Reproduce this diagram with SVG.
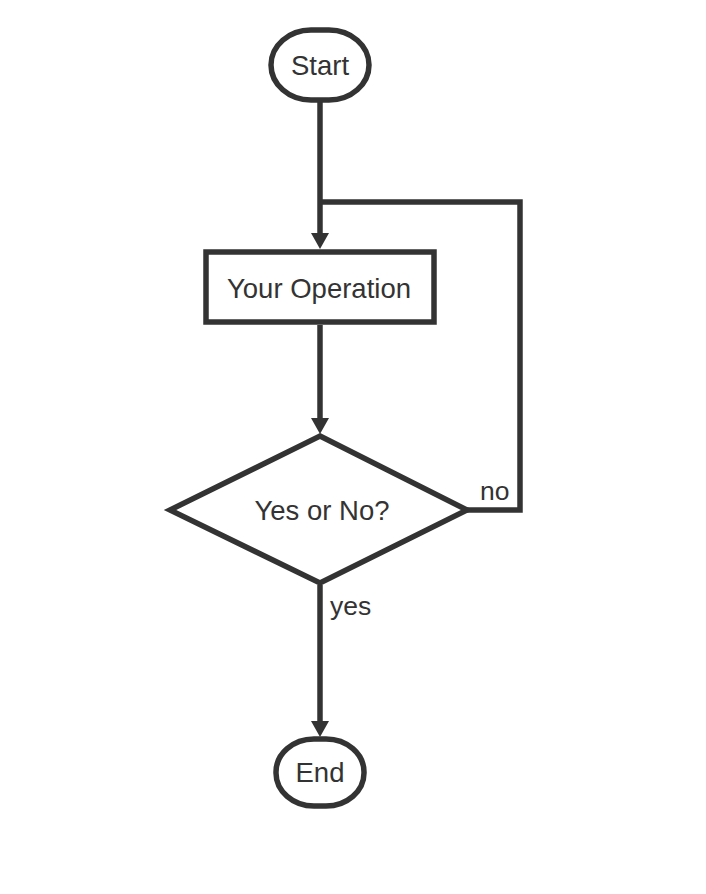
<svg xmlns="http://www.w3.org/2000/svg" width="706" height="894" viewBox="0 0 706 894">
  <style>
    .shape { fill: #ffffff; stroke: #333333; stroke-width: 5.5; }
    .conn { fill: none; stroke: #333333; stroke-width: 5.5; stroke-linejoin: miter; }
    .label { font-family: "Liberation Sans", Arial, sans-serif; font-size: 27.5px; fill: #333333; text-anchor: middle; }
    .edge-label { font-family: "Liberation Sans", Arial, sans-serif; font-size: 26.5px; fill: #333333; }
  </style>
  <defs>
    <marker id="arrow" viewBox="0 0 16 18" markerWidth="16" markerHeight="18" refX="8" refY="9" orient="auto" markerUnits="userSpaceOnUse">
      <path d="M0,0 L16,9 L0,18 z" fill="#333333"/>
    </marker>
  </defs>
  <rect width="706" height="894" fill="#ffffff"/>
  <g id="connectors">
    <path class="conn" d="M320,101 V241" marker-end="url(#arrow)"/>
    <path class="conn" d="M320,325 V426" marker-end="url(#arrow)"/>
    <path class="conn" d="M320,585 V729" marker-end="url(#arrow)"/>
    <path class="conn" d="M467,510 H520 V202 H320"/>
    <text class="edge-label" x="480" y="500">no</text>
    <text class="edge-label" x="330" y="615">yes</text>
  </g>
  <g id="start">
    <rect class="shape" x="271" y="30" width="98" height="70" rx="40" ry="35"/>
    <text class="label" x="320" y="75">Start</text>
  </g>
  <g id="operation">
    <rect class="shape" x="206" y="252" width="228" height="70"/>
    <text class="label" x="319" y="298">Your Operation</text>
  </g>
  <g id="decision">
    <polygon class="shape" points="320,436 467,510 320,583 170,510"/>
    <text class="label" x="322" y="520">Yes or No?</text>
  </g>
  <g id="end">
    <rect class="shape" x="276" y="739" width="88" height="67" rx="38" ry="33"/>
    <text class="label" x="320" y="782">End</text>
  </g>
</svg>
